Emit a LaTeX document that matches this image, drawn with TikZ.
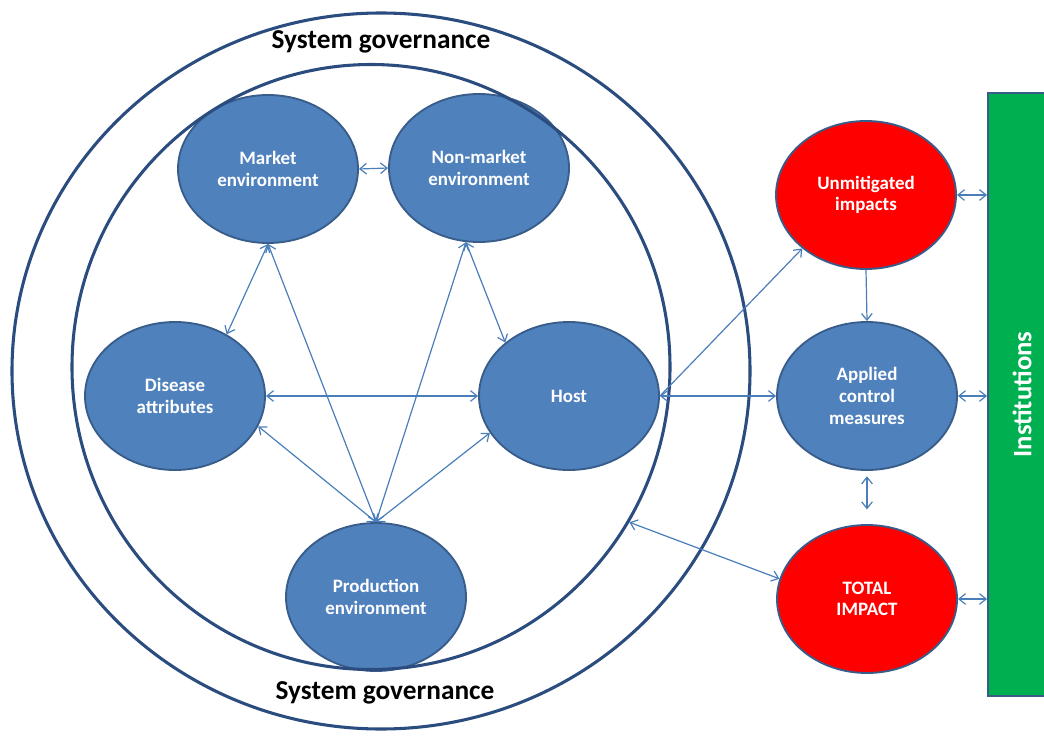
\documentclass[tikz,border=0pt]{standalone}
\usepackage{fontspec}
\setmainfont{Carlito}
\usetikzlibrary{shapes.geometric,arrows.meta}
\definecolor{nodeblue}{HTML}{4F81BD}
\definecolor{edgeblue}{HTML}{385D8A}
\definecolor{ringblue}{HTML}{2B4C7E}
\definecolor{linkblue}{HTML}{4A7EBB}
\definecolor{instgreen}{HTML}{00B050}
\begin{document}
\begin{tikzpicture}[x=0.75pt,y=-0.75pt,
  bubble/.style={ellipse,draw=edgeblue,line width=1.4pt,fill=nodeblue,text=white,inner sep=0pt,
    minimum width=135pt,minimum height=111pt,align=center,font=\bfseries\fontsize{14.2}{16.2}\selectfont},
  hot/.style={bubble,fill=red},
  ring/.style={ellipse,draw=ringblue,line width=2.3pt,inner sep=0pt},
  link/.style={draw=linkblue,line width=0.9pt,>={Straight Barb[length=5pt,width=8pt]}},
  govlabel/.style={font=\bfseries\fontsize{20.5}{24}\selectfont}]
\useasboundingbox (0,0) rectangle (1044,738);
\clip (0,0) rectangle (1044,738);
\foreach \n/\x/\y/\t in {mkt/268/169/{Market\\environment}, nmk/479/168/{Non-market\\environment},
    dis/175/396/{Disease\\attributes}, host/569/396/Host, prod/376/597/{Production\\environment},
    app/867/396/{Applied\\control\\measures}}
  \node[bubble] (\n) at (\x,\y) {\t};
\node[hot] (unm) at (866,195) {Unmitigated\\impacts};
\node[hot] (tot) at (867,599) {TOTAL\\IMPACT};
\node[draw=edgeblue,line width=1.4pt,fill=instgreen,minimum width=51pt,minimum height=452.25pt,
  label={[rotate=90,text=white,font=\bfseries\fontsize{20}{24}\selectfont]center:Institutions}] (inst) at (1022,394.5) {};
% governance rings
\node[ring,minimum width=553.5pt,minimum height=537pt] (outer) at (381,371) {};
\node[ring,minimum width=448.5pt,minimum height=453.75pt] (inner) at (371,367) {};
\node[govlabel] (sgtop) at (381,42) {System governance};
\node[govlabel] (sgbot) at (385,693) {System governance};
% links
\foreach \a/\b in {mkt.east/nmk.west, mkt.south/dis.50, mkt.south/prod.north, nmk.-100/prod.north,
    nmk.-100/host.140, dis.east/host.west, dis.-20/prod.north, host.-155/prod.north,
    host.east/app.west, inner.-31/tot.167}
  \draw[link,<->] (\a) -- (\b);
\draw[link,->] (host.east) -- (unm.-140);
\draw[link,->] (unm.south) -- (app.north);
\draw[link,<->,shorten <=4pt,shorten >=11pt] (app.south) -- (tot.north);
\foreach \n in {unm,app,tot}
  \draw[link,<->] (\n.east) -- (\n.east -| inst.west);
\end{tikzpicture}
\end{document}
